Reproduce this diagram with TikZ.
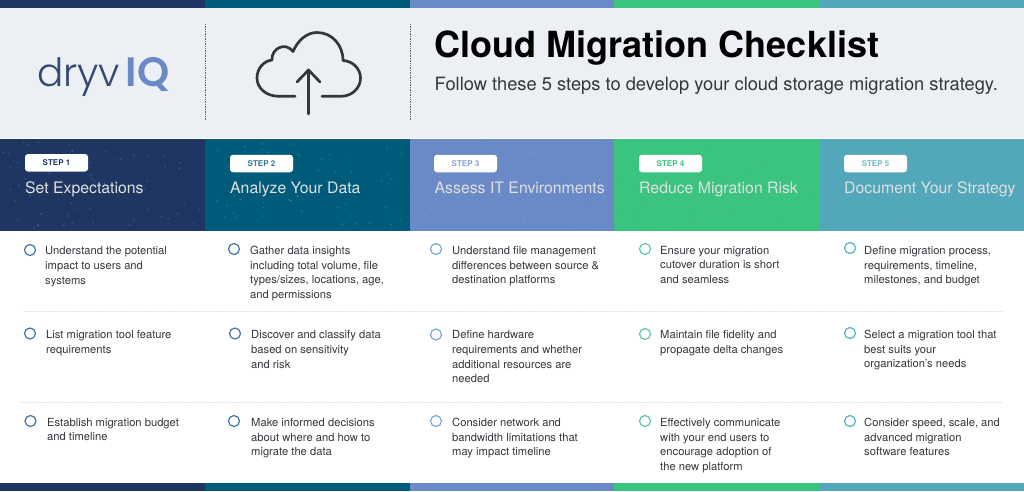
\documentclass[tikz,border=0pt]{standalone}
\usepackage{fontspec}
\setmainfont{TeX Gyre Heros}
\newfontfamily\logofont{Poppins Light}
\newfontfamily\logoboldfont{Poppins SemiBold}
\usetikzlibrary{calc}

\definecolor{navyband}{HTML}{1F3663}
\definecolor{tealband}{HTML}{005A7A}
\definecolor{periband}{HTML}{6A89C7}
\definecolor{greenband}{HTML}{3AC480}
\definecolor{aquaband}{HTML}{52A8BA}
\definecolor{headfill}{HTML}{ECEFF4}
\definecolor{inktext}{HTML}{33363B}
\definecolor{tickblue}{HTML}{3F76A6}
\definecolor{tickpale}{HTML}{7FA6D2}
\definecolor{tickgreen}{HTML}{5CC8A2}
\definecolor{tickaqua}{HTML}{55AFC6}

\tikzset{
  steppill/.style={fill=white,rounded corners=3pt,minimum width=63pt,minimum height=17.5pt,inner sep=0pt,
    font=\fontsize{8}{9}\selectfont\bfseries},
  steptitle/.style={anchor=base west,inner sep=0pt,text=white!88!black,font=\fontsize{15.8}{17}\selectfont},
  tick/.style={circle,draw=#1,line width=1.2pt,minimum size=11pt,inner sep=0pt},
  itemtext/.style={anchor=north west,align=left,inner sep=0pt,text=inktext,font=\fontsize{11.2}{14.6}\selectfont},
  rulegap/.style={draw=black!10,line width=0.5pt,densely dotted},
  headrule/.style={draw=black!60,line width=0.7pt,densely dotted}
}

\begin{document}
\begin{tikzpicture}[x=1pt,y=-1pt]
  \useasboundingbox (0,0) rectangle (1024,491);

  % header and strips
  \fill[white] (0,0) rectangle (1024,491);
  \fill[headfill] (0,8) rectangle (1024,138);
  \foreach \x/\w/\c in {0/205/navyband,205/205/tealband,410/204/periband,614/205/greenband,819/205/aquaband}{
    \fill[\c] (\x,0) rectangle +(\w,8);
    \fill[\c] (\x,138.5) rectangle +(\w,92.5);
    \fill[\c] (\x,483) rectangle +(\w,8);
  }

  % speckles on the bands
  \pgfmathsetseed{7}
  \foreach \x/\c in {0/cyan!60!white,205/cyan!50!white,410/green!60!white,614/black!40!white,819/black!40!white}{
    \foreach \i in {1,...,60}{
      \fill[\c,opacity=0.25] ({\x+3+199*rnd},{141+87*rnd}) circle (0.9);
    }
  }

  % logo
  \node[anchor=base west,inner sep=0pt,text=navyband!90!white,font=\fontsize{39}{40}\selectfont\logofont] (logo) at (37,86) {dryv};
  \node[anchor=base west,inner sep=0pt,text=periband,font=\fontsize{41}{40}\selectfont\logoboldfont] (logoq) at ([xshift=5pt]logo.base east) {IQ};

  \coordinate (ruleatop) at (205,24);
  \coordinate (ruleabot) at (205,120);
  \coordinate (rulebtop) at (410,24);
  \coordinate (rulebbot) at (410,120);
  \draw[headrule] (ruleatop) -- (ruleabot);
  \draw[headrule] (rulebtop) -- (rulebbot);

  % cloud
  \draw[draw=inktext,line width=2.7pt,line cap=round,line join=round]
    (295,96.3) -- (279,96.3)
    .. controls (266,96.3) and (257,88) .. (257,78)
    .. controls (257,68) and (264,61) .. (272,60)
    .. controls (271,49) and (285,41) .. (293,51.5)
    .. controls (298,40) and (307,32.5) .. (317,32.5)
    .. controls (332,32.5) and (343,45) .. (343,60.5)
    .. controls (353,61) and (360.5,69) .. (360.5,78)
    .. controls (360.5,88) and (352,96.3) .. (341,96.3)
    -- (322,96.3);
  \coordinate (arrowfoot) at (308.5,114);
  \coordinate (arrowtip) at (308.5,70);
  \draw[draw=inktext,line width=2.7pt,line cap=round] (arrowfoot) -- (arrowtip);
  \draw[draw=inktext,line width=2.7pt,line cap=round,line join=round] (297,82) -- (arrowtip) -- (320,82);

  % headline
  \node[anchor=base west,inner sep=0pt,text=black,font=\fontsize{36}{40}\selectfont\bfseries] (headline) at (434.5,57) {Cloud Migration Checklist};
  \node[anchor=base west,inner sep=0pt,text=inktext,font=\fontsize{18.3}{20}\selectfont] (subline) at (434.5,90) {Follow these 5 steps to develop your cloud storage migration strategy.};

  % step labels
  \node[steppill,text=navyband] (step1) at (56.5,162.8) {STEP 1};
  \node[steppill,text=tealband!80!white] (step2) at (261.5,163.5) {STEP 2};
  \node[steppill,text=periband!80!white] (step3) at (465.5,163.5) {STEP 3};
  \node[steppill,text=greenband] (step4) at (670.5,163.5) {STEP 4};
  \node[steppill,text=aquaband!80!white] (step5) at (875.5,163.5) {STEP 5};

  \node[steptitle] (title1) at (25,193) {Set Expectations};
  \node[steptitle] (title2) at (230,193) {Analyze Your Data};
  \node[steptitle] (title3) at (434.5,193) {Assess IT Environments};
  \node[steptitle] (title4) at (639,193) {Reduce Migration Risk};
  \node[steptitle] (title5) at (844,193) {Document Your Strategy};

  % separators
  \coordinate (sepaleft) at (22,311);
  \coordinate (separight) at (1002,311);
  \coordinate (sepbleft) at (20,402);
  \coordinate (sepbright) at (1002,402);
  \draw[rulegap] (sepaleft) -- (separight);
  \draw[rulegap] (sepbleft) -- (sepbright);

  % column 1
  \node[tick=tickblue] (c11) at (30,250) {};
  \node[itemtext] (t11) at (45,246.5) {Understand the potential\\impact to users and\\systems};
  \node[tick=tickblue] (c12) at (30,333.5) {};
  \node[itemtext] (t12) at (46,330.5) {List migration tool feature\\requirements};
  \node[tick=tickblue] (c13) at (30.5,421) {};
  \node[itemtext] (t13) at (47,418) {Establish migration budget\\and timeline};

  % column 2
  \node[tick=tickblue] (c21) at (234,249) {};
  \node[itemtext] (t21) at (250,246) {Gather data insights\\including total volume, file\\types/sizes, locations, age,\\and permissions};
  \node[tick=tickblue] (c22) at (235,333.5) {};
  \node[itemtext] (t22) at (251,330.5) {Discover and classify data\\based on sensitivity\\and risk};
  \node[tick=tickblue] (c23) at (234,421) {};
  \node[itemtext] (t23) at (251,418) {Make informed decisions\\about where and how to\\migrate the data};

  % column 3
  \node[tick=tickpale] (c31) at (436,249) {};
  \node[itemtext] (t31) at (452,246) {Understand file management\\differences between source \&\\destination platforms};
  \node[tick=tickpale] (c32) at (436,334.5) {};
  \node[itemtext] (t32) at (452,330.5) {Define hardware\\requirements and whether\\additional resources are\\needed};
  \node[tick=tickpale] (c33) at (436,421) {};
  \node[itemtext] (t33) at (452,418) {Consider network and\\bandwidth limitations that\\may impact timeline};

  % column 4
  \node[tick=tickgreen] (c41) at (645,249) {};
  \node[itemtext] (t41) at (660,246) {Ensure your migration\\cutover duration is short\\and seamless};
  \node[tick=tickgreen] (c42) at (645,334) {};
  \node[itemtext] (t42) at (660,330) {Maintain file fidelity and\\propagate delta changes};
  \node[tick=tickgreen] (c43) at (645,421) {};
  \node[itemtext] (t43) at (660,418) {Effectively communicate\\with your end users to\\encourage adoption of\\the new platform};

  % column 5
  \node[tick=tickaqua] (c51) at (850,248) {};
  \node[itemtext] (t51) at (864,246) {Define migration process,\\requirements, timeline,\\milestones, and budget};
  \node[tick=tickaqua] (c52) at (850,333) {};
  \node[itemtext] (t52) at (864,330) {Select a migration tool that\\best suits your\\organization's needs};
  \node[tick=tickaqua] (c53) at (850,421) {};
  \node[itemtext] (t53) at (864,418) {Consider speed, scale, and\\advanced migration\\software features};
\end{tikzpicture}
\end{document}
